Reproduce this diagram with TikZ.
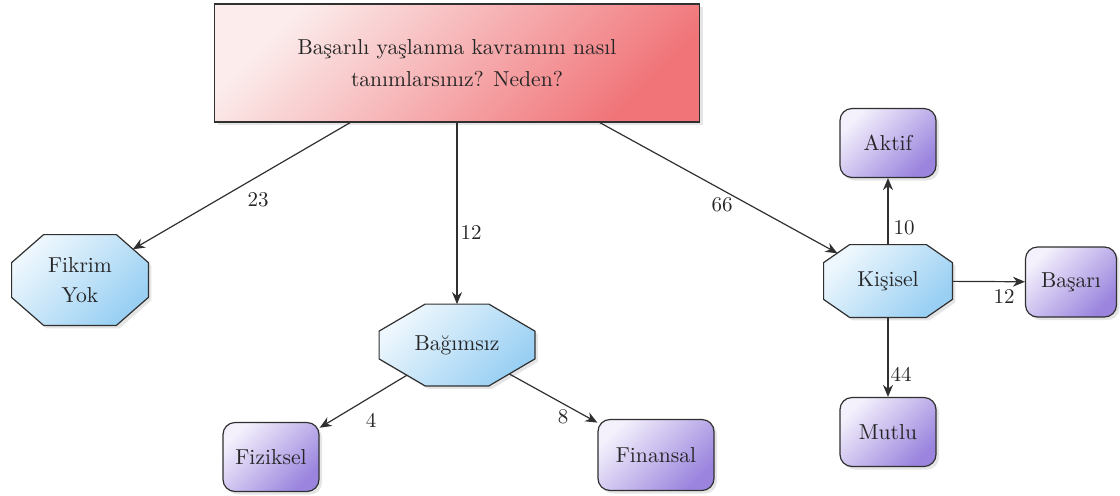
\documentclass[tikz,border=0pt]{standalone}
\usetikzlibrary{arrows.meta,positioning,shadows,backgrounds}
\definecolor{txtc}{HTML}{262626}
\definecolor{edgec}{HTML}{303030}
\definecolor{qtop}{HTML}{FCECEC}
\definecolor{qbot}{HTML}{F07478}
\definecolor{otop}{HTML}{EEF7FD}
\definecolor{obot}{HTML}{98CFF3}
\definecolor{rtop}{HTML}{F4F0FC}
\definecolor{rbot}{HTML}{9A84DE}
\tikzset{
  shd/.style={drop shadow={shadow xshift=1.5pt,shadow yshift=-1.5pt,fill=black,opacity=0.10}},
  qblk/.style={draw=edgec,line width=0.7pt,rectangle,align=center,text=txtc,
    top color=qtop,bottom color=qbot,shading angle=45,shd,
    font=\fontsize{10.8}{16}\selectfont},
  octtxt/.style={rectangle,align=center,text=txtc,inner sep=0pt,
    font=\fontsize{10.8}{15}\selectfont},
  octfill/.style={draw=edgec,line width=0.6pt,top color=otop,bottom color=obot,shading angle=45,shd},
  resblk/.style={draw=edgec,line width=0.6pt,rectangle,rounded corners=6pt,align=center,text=txtc,
    top color=rtop,bottom color=rbot,shading angle=45,shd,
    minimum width=48pt,minimum height=34.5pt,font=\fontsize{10.8}{15}\selectfont},
  arr/.style={-{Stealth[length=6pt,width=5pt]},edgec,line width=0.6pt},
  lbl/.style={text=txtc,inner sep=0pt,font=\fontsize{10.5}{12}\selectfont}
}
% octagon behind a node: name, corner cut x, corner cut y
\newcommand\octof[3]{%
  \path[octfill] ([xshift=#2]#1.north west) -- ([xshift=-#2]#1.north east)
    -- ([yshift=-#3]#1.north east) -- ([yshift=#3]#1.south east)
    -- ([xshift=-#2]#1.south east) -- ([xshift=#2]#1.south west)
    -- ([yshift=#3]#1.south west) -- ([yshift=-#3]#1.north west) -- cycle;}
\begin{document}
\begin{tikzpicture}[x=0.5pt,y=-0.5pt]
  \useasboundingbox (0,0) rectangle (1120,495);
  % Question
  \node[qblk,minimum width=242.5pt,minimum height=59pt] (q) at (457,63)
    {Başarılı yaşlanma kavramını nasıl\\tanımlarsınız? Neden?};

  % First level
  \node[octtxt,minimum width=68pt,minimum height=45pt] (fy) at (80,280) {Fikrim\\Yok};
  \node[octtxt,minimum width=77.5pt,minimum height=40.5pt] (bg) at (457,345) {Bağımsız};
  \node[octtxt,minimum width=64pt,minimum height=36pt] (ks) at (888,281) {Kişisel};
  \begin{scope}[on background layer]
    \octof{fy}{16pt}{14pt}
    \octof{bg}{23pt}{13.5pt}
    \octof{ks}{13pt}{9pt}
  \end{scope}

  % Second level
  \node[resblk] (fz) at (271,457) {Fiziksel};
  \node[resblk,minimum width=58pt,minimum height=35.5pt] (fn) at (656,455) {Finansal};
  \node[resblk] (ak) at (888,143) {Aktif};
  \node[resblk,minimum width=45.5pt,minimum height=35pt] (bs) at (1071,282) {Başarı};
  \node[resblk] (mt) at (888,432) {Mutlu};

  % Connections
  \draw[arr,shorten >=-9pt] ([xshift=-53.5pt]q.south) -- (fy);
  \draw[arr] (q.south) -- (bg);
  \draw[arr,shorten >=-7.9pt] ([xshift=71.5pt]q.south) -- (ks);
  \draw[arr,shorten <=-10.3pt] (bg) -- (fz);
  \draw[arr,shorten <=-12.3pt] (bg) -- (fn);
  \draw[arr] (ks) -- (ak);
  \draw[arr] (ks) -- (bs);
  \draw[arr] (ks) -- (mt);

  % Counts
  \node[lbl] (l23) at (258,200) {23};
  \node[lbl] (l12a) at (471,232) {12};
  \node[lbl] (l66) at (722,205) {66};
  \node[lbl] (l4) at (371,420) {4};
  \node[lbl] (l8) at (563,417) {8};
  \node[lbl] (l10) at (904,228) {10};
  \node[lbl] (l12b) at (1004,296) {12};
  \node[lbl] (l44) at (901,374) {44};
\end{tikzpicture}
\end{document}
